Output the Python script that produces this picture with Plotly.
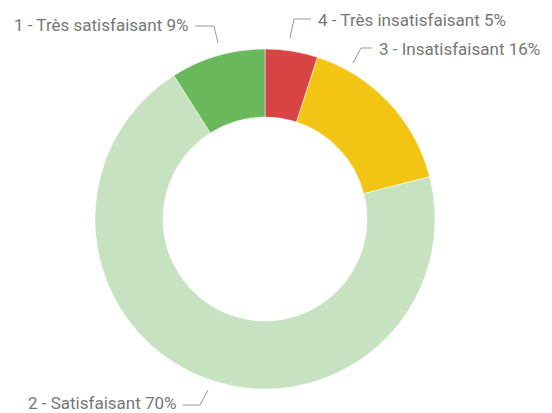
import plotly.graph_objects as go

labels = ["4 - Très insatisfaisant", "3 - Insatisfaisant", "2 - Satisfaisant", "1 - Très satisfaisant"]
values = [5, 16, 70, 9]
colors = ["#d84343", "#f2c414", "#c6e2c0", "#6ab85c"]

W, H = 552, 413
OFF = 8  # page body margin in the browser

def px(x):
    return (x - OFF) / W

def py(y):
    return 1 - (y - OFF) / H

fig = go.Figure(go.Pie(
    labels=labels,
    values=values,
    sort=False,
    direction="clockwise",
    rotation=0,
    hole=0.6,
    marker=dict(colors=colors, line=dict(color="white", width=0.5)),
    textinfo="none",
    hoverinfo="label+percent",
    domain=dict(x=[px(265 - 170), px(265 + 170)], y=[py(219 + 170), py(219 - 170)]),
    showlegend=False,
))

font = dict(family="Roboto", size=17, color="#777777")
txt = [f"{l} {v}%" for l, v in zip(labels, values)]

# label placement: (x_pixel, y_pixel, xanchor)
place = [(316, 20, "left"), (377, 49, "left"), (179, 403, "right"), (190, 25, "right")]
leaders = [
    [(311, 19), (294, 19), (290, 38)],
    [(372, 48), (361, 48), (353, 63)],
    [(183, 405), (200, 405), (208, 390)],
    [(195, 26), (214, 26), (218, 43)],
]

for t, (x, y, xa) in zip(txt, place):
    fig.add_annotation(x=px(x), y=py(y), xref="paper", yref="paper", text=t,
                       showarrow=False, xanchor=xa, yanchor="middle", font=font)

for pts in leaders:
    path = "M " + " L ".join(f"{px(a)},{py(b)}" for a, b in pts)
    fig.add_shape(type="path", path=path, xref="paper", yref="paper",
                  line=dict(color="#999999", width=1))

fig.update_layout(width=W, height=H, margin=dict(l=0, r=0, t=0, b=0),
                  paper_bgcolor="white", plot_bgcolor="white")

fig.write_html("out.html")
